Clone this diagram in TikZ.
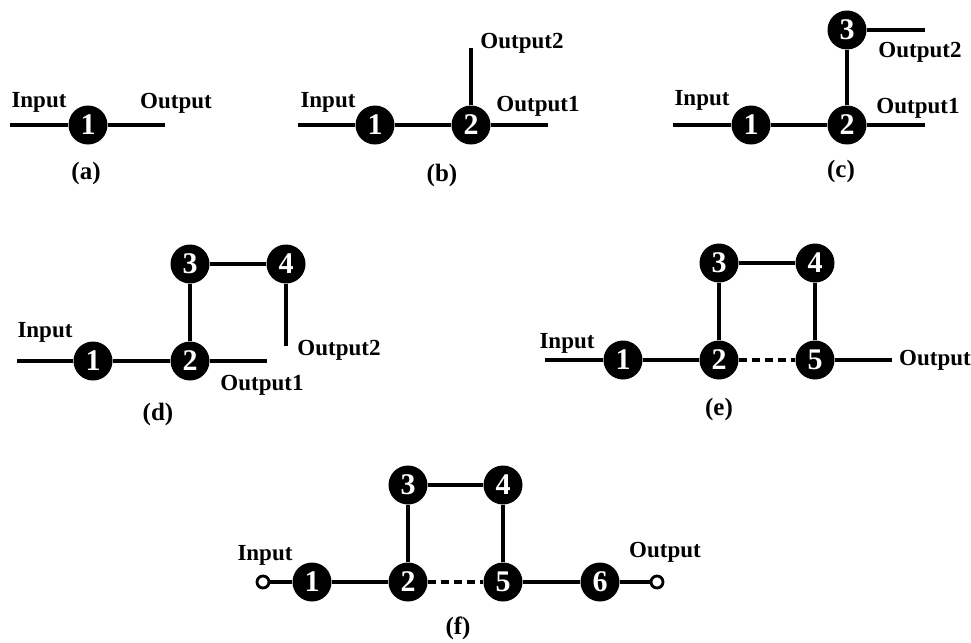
\documentclass[tikz,border=0pt]{standalone}
\usepackage{fontspec}
\setmainfont{Liberation Serif}
\begin{document}
\begin{tikzpicture}[x=1pt,y=-1pt,
  nd/.style={circle,fill=black,minimum size=39pt,inner sep=0pt,text=white,font=\fontsize{30}{30}\selectfont\bfseries},
  port/.style={circle,draw=black,fill=white,line width=2.8pt,minimum size=12pt,inner sep=0pt},
  lbl/.style={inner sep=0pt,font=\fontsize{23}{25}\selectfont\bfseries},
  captxt/.style={inner sep=0pt,font=\fontsize{25}{27}\selectfont\bfseries},
  wire/.style={line width=3.8pt},
  dwire/.style={line width=3.8pt,dash pattern=on 8pt off 5pt}]
\useasboundingbox (0,0) rectangle (971,642);

% (a)
\node[nd] (a1) at (88,125) {1};
\coordinate (ain) at (10,125);
\coordinate (aout) at (165,125);
\draw[wire] (ain) -- (a1) -- (aout);
\node[lbl] (ainl) at (39,102) {Input};
\node[lbl] (aoutl) at (176,103) {Output};
\node[captxt] (acap) at (86,173) {(a)};

% (b)
\node[nd] (b1) at (375,125) {1};
\node[nd] (b2) at (471,125) {2};
\coordinate (bin) at (298,125);
\coordinate (bout1) at (548,125);
\coordinate (bout2) at (471,48);
\draw[wire] (bin) -- (b1) -- (b2) -- (bout1);
\draw[wire] (b2) -- (bout2);
\node[lbl] (binl) at (328,102) {Input};
\node[lbl] (bout1l) at (538,106) {Output1};
\node[lbl] (bout2l) at (522,43) {Output2};
\node[captxt] (bcap) at (442,175) {(b)};

% (c)
\node[nd] (c1) at (751,125) {1};
\node[nd] (c2) at (847,125) {2};
\node[nd] (c3) at (847,30) {3};
\coordinate (cin) at (673,125);
\coordinate (cout1) at (925,125);
\coordinate (cout2) at (925,30);
\draw[wire] (cin) -- (c1) -- (c2) -- (cout1);
\draw[wire] (c2) -- (c3) -- (cout2);
\node[lbl] (cinl) at (702,100) {Input};
\node[lbl] (cout1l) at (918,108) {Output1};
\node[lbl] (cout2l) at (920,52) {Output2};
\node[captxt] (ccap) at (841,171) {(c)};

% (d)
\node[nd] (d1) at (93,361) {1};
\node[nd] (d2) at (190,361) {2};
\node[nd] (d3) at (190,264) {3};
\node[nd] (d4) at (286,264) {4};
\coordinate (din) at (17,361);
\coordinate (dout1) at (267,361);
\coordinate (dout2) at (286,346);
\draw[wire] (din) -- (d1) -- (d2) -- (dout1);
\draw[wire] (d2) -- (d3) -- (d4) -- (dout2);
\node[lbl] (dinl) at (45,332) {Input};
\node[lbl] (dout1l) at (262,385) {Output1};
\node[lbl] (dout2l) at (339,350) {Output2};
\node[captxt] (dcap) at (158,414) {(d)};

% (e)
\node[nd] (e1) at (623,360) {1};
\node[nd] (e2) at (719,360) {2};
\node[nd] (e3) at (719,263) {3};
\node[nd] (e4) at (815,263) {4};
\node[nd] (e5) at (815,360) {5};
\coordinate (ein) at (545,360);
\coordinate (eout) at (892,360);
\draw[wire] (ein) -- (e1) -- (e2) -- (e3) -- (e4) -- (e5) -- (eout);
\draw[dwire] (e2) -- (e5);
\node[lbl] (einl) at (567,343) {Input};
\node[lbl,anchor=west] (eoutl) at (899,360) {Output};
\node[captxt] (ecap) at (719,409) {(e)};

% (f)
\node[port] (fin) at (263,582) {};
\node[nd] (f1) at (312,582) {1};
\node[nd] (f2) at (408,582) {2};
\node[nd] (f3) at (408,485) {3};
\node[nd] (f4) at (503,485) {4};
\node[nd] (f5) at (503,582) {5};
\node[nd] (f6) at (600,582) {6};
\node[port] (fout) at (657,582) {};
\draw[wire] (fin) -- (f1) -- (f2) -- (f3) -- (f4) -- (f5) -- (f6) -- (fout);
\draw[dwire] (f2) -- (f5);
\node[lbl] (finl) at (265,555) {Input};
\node[lbl] (foutl) at (665,552) {Output};
\node[captxt] (fcap) at (458,628) {(f)};
\end{tikzpicture}
\end{document}
